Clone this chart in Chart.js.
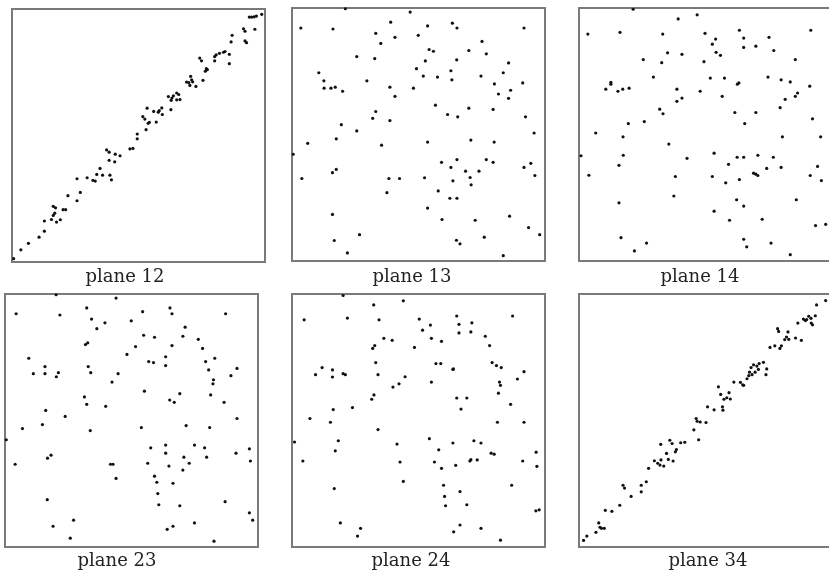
<!DOCTYPE html>
<html>
<head>
<meta charset="utf-8">
<script src="https://cdn.jsdelivr.net/npm/chart.js@4.4.0/dist/chart.umd.min.js"></script>
<style>
  body { margin: 0; background: #fff; width: 829px; height: 574px; overflow: hidden; position: relative; }
  .panel { position: absolute; }
  .label { position: absolute; width: 120px; text-align: center; font-family: "DejaVu Serif", serif; font-size: 18px; line-height: 18px; color: #222; }
</style>
</head>
<body>
<script>
const plane12X = [0.65, 3.5, 6.5, 10.7, 12.8, 12.8, 15.6, 16.3, 17.6, 16.9, 16.3, 17.2, 19.1, 20.2, 21.2, 22.1, 25.7, 27.0, 25.7, 29.7, 32.0, 32.9, 33.5, 34.8, 35.8, 38.7, 39.3, 37.4, 38.4, 40.8, 42.7, 38.4, 40.6, 46.6, 47.8, 49.5, 49.5, 53.0, 53.4, 51.7, 52.5, 53.8, 54.3, 56.0, 57.0, 57.8, 58.2, 59.2, 59.4, 62.8, 61.8, 63.2, 63.8, 62.9, 65.1, 65.9, 65.1, 66.4, 69.0, 69.9, 70.6, 71.0, 70.3, 71.4, 72.7, 74.2, 74.9, 75.5, 76.4, 76.8, 77.2, 80.1, 80.1, 80.7, 82.0, 83.6, 84.2, 85.9, 85.9, 86.6, 87.0, 91.5, 92.1, 92.1, 92.7, 96.0, 93.8, 94.7, 95.7, 96.6, 98.7];
const plane12Y = [1.3, 4.8, 7.4, 9.8, 12.2, 16.2, 16.8, 18.4, 15.8, 19.3, 22.0, 21.4, 16.7, 20.7, 20.7, 26.2, 24.2, 27.5, 32.9, 33.3, 32.3, 32.0, 34.6, 37.0, 34.3, 34.3, 32.5, 44.3, 43.4, 42.6, 42.0, 40.2, 39.6, 44.7, 44.9, 48.7, 50.6, 52.3, 60.8, 57.5, 56.5, 54.8, 55.2, 59.5, 55.3, 59.2, 59.8, 60.9, 58.3, 60.2, 65.4, 64.8, 65.7, 63.9, 66.8, 66.2, 64.1, 64.2, 71.1, 70.9, 73.4, 72.0, 69.8, 71.2, 69.4, 80.6, 79.5, 71.8, 75.4, 76.4, 76.0, 81.2, 79.5, 81.9, 82.5, 82.9, 83.2, 82.1, 78.4, 87.0, 89.6, 92.2, 91.2, 87.4, 86.7, 92.0, 96.8, 96.8, 96.9, 97.2, 97.9];

const plane13X = [21.1, 46.7, 3.5, 16.2, 39.0, 53.6, 63.4, 65.2, 91.7, 33.1, 40.7, 49.9, 35.1, 75.1, 54.2, 55.9, 69.9, 76.8, 25.6, 32.7, 52.7, 65.1, 85.6, 10.6, 49.2, 62.8, 83.5, 12.6, 29.6, 51.9, 57.5, 63.2, 74.7, 80.0, 91.2, 12.7, 15.4, 17.1, 20.0, 38.7, 48.0, 40.7, 86.4, 81.6, 85.6, 56.7, 69.9, 79.5, 33.1, 31.9, 38.7, 61.5, 65.5, 92.3, 19.5, 25.6, 95.7, 17.5, 6.2, 35.4, 53.6, 70.7, 79.9, 0.5, 59.1, 65.2, 76.8, 79.5, 91.7, 94.4, 62.8, 68.6, 73.9, 16.0, 17.5, 3.9, 38.3, 42.5, 52.4, 63.6, 70.4, 70.8, 96.0, 57.8, 37.5, 62.4, 65.2, 53.6, 16.0, 59.3, 72.4, 86.0, 93.5, 97.9, 26.7, 16.7, 65.0, 66.4, 76.0, 21.9, 83.5];
const plane13Y = [99.7, 98.4, 92.1, 91.7, 94.4, 92.9, 94.0, 92.1, 92.1, 90.0, 88.4, 89.2, 86.0, 86.8, 83.6, 82.9, 83.2, 81.9, 80.8, 80.0, 79.1, 79.5, 78.3, 74.4, 76.0, 75.2, 74.4, 71.2, 71.2, 73.1, 72.7, 71.6, 73.1, 70.0, 70.4, 68.3, 68.3, 68.7, 67.1, 68.7, 68.3, 65.1, 67.5, 66.0, 64.3, 61.6, 60.4, 59.9, 59.1, 56.4, 55.5, 57.9, 57.0, 57.0, 53.9, 51.4, 50.6, 48.3, 46.5, 45.8, 47.0, 47.8, 47.0, 42.2, 39.0, 40.1, 40.1, 39.0, 37.0, 38.6, 37.0, 35.5, 35.5, 34.9, 36.2, 32.6, 32.6, 32.6, 32.9, 31.7, 33.0, 30.1, 33.8, 27.7, 27.0, 24.8, 24.8, 20.9, 18.4, 16.4, 16.1, 17.7, 13.2, 10.4, 10.4, 8.1, 8.2, 6.8, 9.4, 3.2, 2.1];

const plane14X = [21.4, 39.2, 46.7, 3.5, 16.2, 33.1, 49.8, 63.4, 91.6, 54.0, 65.1, 75.1, 52.7, 65.1, 69.9, 77.0, 35.0, 40.7, 54.2, 55.9, 25.4, 32.7, 49.4, 85.5, 29.4, 51.9, 57.5, 62.6, 63.2, 74.7, 79.9, 83.5, 91.2, 10.6, 12.6, 12.6, 15.4, 17.3, 19.8, 38.7, 47.9, 86.4, 85.5, 81.5, 40.7, 38.7, 56.6, 79.5, 31.9, 33.2, 61.6, 69.9, 65.5, 92.3, 19.5, 25.8, 6.6, 17.4, 35.5, 80.4, 95.5, 0.8, 17.5, 15.8, 42.7, 53.4, 59.1, 62.5, 65.1, 70.7, 76.8, 74.2, 79.9, 94.3, 3.9, 38.1, 52.7, 58.0, 63.4, 69.0, 69.9, 70.7, 91.4, 95.8, 37.5, 15.8, 62.3, 65.1, 85.9, 53.4, 59.5, 72.4, 93.5, 97.5, 16.6, 26.7, 21.9, 65.1, 66.3, 75.9, 83.5];
const plane14Y = [99.5, 95.7, 97.3, 89.7, 90.4, 89.7, 90.0, 91.2, 91.2, 87.7, 88.1, 88.4, 85.7, 84.4, 84.9, 83.2, 82.3, 81.7, 82.5, 81.3, 79.6, 78.4, 78.8, 79.6, 72.7, 72.3, 72.3, 69.9, 70.4, 72.7, 71.6, 70.8, 69.1, 67.9, 70.6, 69.9, 67.1, 67.9, 68.3, 67.9, 67.1, 66.4, 65.1, 63.9, 64.4, 63.1, 65.1, 60.6, 60.0, 58.2, 58.7, 58.7, 54.3, 56.2, 54.3, 55.1, 50.6, 49.1, 46.2, 49.1, 49.1, 41.6, 41.8, 37.8, 40.6, 42.6, 38.2, 41.0, 41.0, 41.8, 41.0, 36.6, 37.0, 37.4, 33.9, 33.4, 33.4, 30.9, 32.2, 34.7, 34.3, 33.8, 33.8, 31.8, 25.7, 23.0, 24.2, 21.7, 24.2, 19.7, 16.1, 16.5, 14.0, 14.5, 9.2, 7.1, 4.0, 8.6, 5.6, 7.1, 2.5];

const plane23X = [20.2, 43.9, 4.4, 21.7, 32.3, 34.2, 39.5, 36.3, 49.9, 54.4, 65.2, 66.0, 87.2, 71.2, 54.8, 59.1, 70.3, 76.4, 78.1, 31.8, 32.7, 51.6, 66.0, 48.2, 63.5, 9.4, 56.8, 58.7, 63.5, 79.3, 82.9, 15.8, 32.9, 11.2, 15.8, 21.1, 20.3, 33.9, 44.7, 80.5, 91.7, 89.3, 82.4, 82.2, 42.3, 55.1, 69.1, 81.3, 65.1, 66.9, 86.6, 31.4, 32.3, 39.8, 16.1, 23.8, 91.7, 14.8, 6.9, 33.7, 53.9, 71.6, 80.9, 0.5, 57.6, 63.5, 74.9, 78.9, 91.3, 96.6, 63.5, 70.7, 79.7, 16.8, 18.2, 4.0, 41.7, 42.7, 56.4, 64.8, 72.8, 70.3, 97.0, 59.1, 60.0, 43.9, 66.4, 60.4, 16.7, 60.8, 69.1, 87.0, 96.6, 97.9, 27.1, 19.0, 64.1, 66.4, 74.9, 25.8, 82.6];
const plane23Y = [99.7, 98.4, 92.2, 91.7, 94.5, 90.1, 88.6, 86.3, 89.4, 93.0, 94.5, 92.2, 92.2, 86.9, 83.7, 82.9, 83.3, 82.1, 78.5, 80.0, 80.7, 79.2, 79.6, 76.1, 75.2, 74.6, 73.3, 72.9, 71.7, 73.3, 74.6, 71.3, 71.3, 68.5, 68.5, 68.9, 67.3, 68.9, 68.5, 70.0, 70.6, 67.7, 66.1, 64.5, 65.2, 61.6, 60.6, 60.1, 58.1, 57.2, 57.2, 59.3, 56.4, 55.6, 54.0, 51.6, 50.8, 48.4, 46.8, 46.0, 47.2, 48.0, 47.2, 42.4, 39.2, 40.3, 40.3, 39.2, 37.1, 38.8, 37.1, 35.5, 35.5, 35.1, 36.3, 32.7, 32.7, 32.7, 33.1, 32.0, 33.1, 30.4, 34.0, 28.0, 25.6, 27.1, 25.2, 21.1, 18.7, 16.7, 16.3, 17.9, 13.5, 10.6, 10.6, 8.2, 7.0, 8.2, 9.5, 3.5, 2.3];

const plane24X = [20.2, 32.3, 44.0, 4.8, 21.9, 34.4, 50.3, 54.7, 65.1, 66.0, 71.1, 87.2, 51.6, 66.0, 70.7, 76.4, 36.3, 39.6, 55.1, 59.1, 78.1, 32.7, 31.9, 48.4, 33.1, 56.9, 58.8, 63.6, 63.8, 79.1, 80.8, 82.7, 91.7, 9.3, 11.9, 16.0, 16.0, 20.2, 21.1, 34.0, 44.7, 89.1, 82.0, 82.4, 42.3, 39.9, 55.1, 81.6, 32.4, 31.5, 65.1, 69.1, 66.8, 86.4, 16.3, 23.9, 7.1, 15.2, 34.0, 81.2, 91.7, 1.0, 18.3, 17.1, 41.5, 54.3, 58.0, 63.6, 71.9, 74.7, 78.7, 79.9, 96.5, 4.3, 42.7, 56.3, 59.1, 64.7, 70.3, 70.7, 73.2, 91.2, 96.8, 44.0, 16.7, 59.9, 66.4, 86.8, 60.3, 60.7, 69.1, 96.4, 97.7, 19.1, 27.1, 25.9, 66.4, 63.9, 74.7, 82.4];
const plane24Y = [99.4, 95.7, 97.3, 89.8, 90.5, 89.8, 90.1, 87.7, 91.3, 88.0, 88.6, 91.3, 85.7, 84.6, 85.0, 83.3, 82.5, 81.7, 82.5, 81.3, 79.6, 79.6, 78.5, 78.9, 72.9, 72.5, 72.5, 70.2, 70.4, 72.9, 71.7, 70.9, 69.3, 68.1, 70.9, 70.0, 67.2, 68.5, 68.1, 68.1, 67.3, 66.4, 65.2, 63.9, 64.5, 63.2, 65.2, 60.8, 60.1, 58.4, 58.9, 58.9, 54.5, 56.4, 54.3, 55.1, 50.8, 49.3, 46.4, 49.3, 49.3, 41.5, 42.0, 38.0, 40.7, 42.8, 38.4, 41.1, 42.0, 41.1, 37.1, 36.7, 37.5, 34.0, 33.6, 33.6, 31.1, 32.3, 34.0, 34.5, 34.4, 34.0, 31.9, 25.9, 23.1, 24.4, 21.9, 24.4, 20.0, 16.3, 16.7, 14.3, 14.7, 9.5, 7.4, 4.3, 8.7, 6.0, 7.4, 2.7];

const plane34X = [1.8, 3.1, 6.7, 7.8, 8.3, 8.9, 10.0, 10.4, 13.0, 16.1, 17.4, 18.0, 20.6, 24.6, 24.6, 26.6, 27.5, 29.8, 31.1, 32.0, 32.4, 33.5, 32.3, 34.6, 35.3, 35.9, 36.8, 37.2, 38.1, 38.5, 40.2, 41.8, 45.4, 46.3, 46.7, 47.3, 47.9, 50.2, 50.8, 53.4, 55.1, 56.0, 56.7, 56.9, 57.3, 58.4, 59.3, 59.8, 61.2, 63.8, 64.7, 65.1, 66.4, 67.1, 67.4, 68.0, 68.4, 69.0, 69.6, 70.3, 71.2, 70.9, 72.9, 73.9, 74.2, 75.5, 77.4, 78.5, 78.9, 79.4, 80.0, 81.3, 82.0, 82.6, 82.9, 85.6, 87.9, 86.5, 88.7, 89.5, 90.0, 90.8, 91.7, 91.8, 92.3, 93.4, 93.9, 97.5];
const plane34Y = [2.6, 4.3, 5.8, 9.5, 7.8, 7.4, 7.4, 14.5, 14.1, 16.5, 24.4, 23.3, 20.0, 24.4, 21.8, 25.8, 31.1, 34.1, 33.1, 32.4, 34.4, 32.0, 40.6, 37.0, 34.6, 42.2, 40.9, 34.0, 37.6, 38.5, 41.2, 41.4, 46.3, 50.8, 49.7, 42.4, 49.4, 49.2, 55.4, 54.2, 63.3, 60.3, 55.4, 54.1, 58.4, 59.0, 61.0, 58.5, 65.2, 65.1, 64.1, 63.9, 66.5, 67.7, 69.1, 70.9, 68.1, 72.0, 69.1, 71.5, 72.5, 70.2, 73.0, 68.1, 70.4, 78.9, 79.5, 86.3, 85.2, 78.5, 79.5, 82.0, 83.0, 85.0, 82.1, 82.6, 81.7, 88.5, 90.1, 89.5, 89.9, 91.2, 90.4, 88.5, 87.8, 91.4, 95.7, 97.4];

const panelLabels = ["plane 12", "plane 13", "plane 14", "plane 23", "plane 24", "plane 34"];

// frame position of each panel on the page, and where its caption sits
const panels = [
  { x: plane12X, y: plane12Y, left: 10, top: 7, labelX: 125, labelTop: 267 },
  { x: plane13X, y: plane13Y, left: 290, top: 6, labelX: 412, labelTop: 267 },
  { x: plane14X, y: plane14Y, left: 577, top: 6, labelX: 700, labelTop: 267 },
  { x: plane23X, y: plane23Y, left: 3, top: 292, labelX: 117, labelTop: 551 },
  { x: plane24X, y: plane24Y, left: 290, top: 292, labelX: 411, labelTop: 551 },
  { x: plane34X, y: plane34Y, left: 577, top: 292, labelX: 708, labelTop: 551 },
];
const frameSize = 257;
const pad = 2;

const framePlugin = {
  id: "frame",
  beforeDatasetsDraw(chart) {
    const { ctx, chartArea } = chart;
    ctx.save();
    ctx.strokeStyle = "#7a7a7a";
    ctx.lineWidth = 2;
    ctx.strokeRect(chartArea.left, chartArea.top, chartArea.right - chartArea.left, chartArea.bottom - chartArea.top);
    ctx.restore();
  },
};

panels.forEach((p, i) => {
  const box = document.createElement("div");
  box.className = "panel";
  box.style.left = p.left - pad + "px";
  box.style.top = p.top - pad + "px";
  box.style.width = frameSize + 2 * pad + "px";
  box.style.height = frameSize + 2 * pad + "px";
  const canvas = document.createElement("canvas");
  box.appendChild(canvas);
  document.body.appendChild(box);

  const label = document.createElement("div");
  label.className = "label";
  label.innerText = panelLabels[i];
  label.style.left = p.labelX - 60 + "px";
  label.style.top = p.labelTop + "px";
  document.body.appendChild(label);

  new Chart(canvas.getContext("2d"), {
    type: "scatter",
    data: {
      datasets: [
        {
          data: p.x.map((v, k) => ({ x: v, y: p.y[k] })),
          backgroundColor: "#111",
          borderWidth: 0,
          pointRadius: 1.6,
          clip: false,
        },
      ],
    },
    options: {
      responsive: true,
      maintainAspectRatio: false,
      animation: false,
      layout: { padding: pad },
      plugins: { legend: { display: false }, tooltip: { enabled: false } },
      scales: {
        x: { type: "linear", min: 0, max: 100, display: false },
        y: { type: "linear", min: 0, max: 100, display: false },
      },
    },
    plugins: [framePlugin],
  });
});
</script>
</body>
</html>
